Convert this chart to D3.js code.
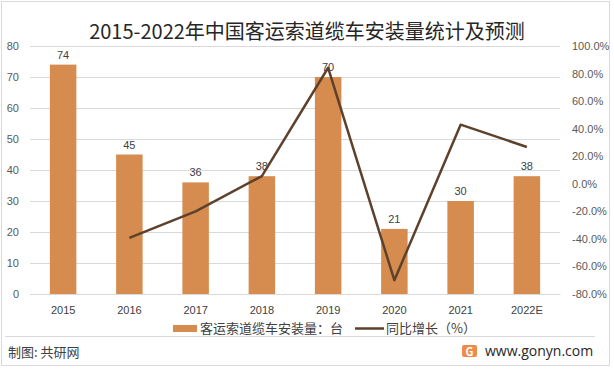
<!DOCTYPE html>
<html>
<head>
<meta charset="utf-8">
<script src="https://cdn.jsdelivr.net/npm/d3@7"></script>
<style>
  body { margin: 0; background: #fff; }
  svg { display: block; font-family: "Noto Sans CJK SC", "Noto Sans", sans-serif; }
</style>
</head>
<body>
<div id="chart"></div>
<script>
// chart data
const years = ["2015", "2016", "2017", "2018", "2019", "2020", "2021", "2022E"];
const installs = [74, 45, 36, 38, 70, 21, 30, 38];
const growth = [null, -39.2, -20.0, 5.6, 84.2, -70.0, 42.9, 26.7];
const leftTicks = [0, 10, 20, 30, 40, 50, 60, 70, 80];
const rightTicks = [-80, -60, -40, -20, 0, 20, 40, 60, 80, 100];

const W = 614, H = 369;
const plot = { left: 30, right: 560, top: 46, bottom: 294 };

const svg = d3.select("#chart").append("svg")
    .attr("width", W)
    .attr("height", H);

// outer frame
svg.append("rect")
    .attr("x", 1.5).attr("y", 1.5)
    .attr("width", 608).attr("height", 364)
    .attr("fill", "#fff")
    .attr("stroke", "#d9d9d9");

// title
svg.append("text")
    .attr("x", 307).attr("y", 39)
    .attr("text-anchor", "middle")
    .attr("font-size", 20)
    .attr("fill", "#262626")
    .text("2015-2022年中国客运索道缆车安装量统计及预测");

const x = d3.scaleBand()
    .domain(years)
    .range([plot.left, plot.right])
    .paddingInner(0.6)
    .paddingOuter(0.3);

const y = d3.scaleLinear()
    .domain([0, 80])
    .range([plot.bottom, plot.top]);

const y2 = d3.scaleLinear()
    .domain([-80, 100])
    .range([plot.bottom, plot.top]);

// gridlines
svg.append("g")
    .selectAll("line")
    .data(leftTicks)
    .join("line")
    .attr("x1", plot.left).attr("x2", plot.right)
    .attr("y1", d => Math.round(y(d)) + 0.5)
    .attr("y2", d => Math.round(y(d)) + 0.5)
    .attr("stroke", "#d9d9d9");

// left axis
const yAxis = svg.append("g")
    .attr("transform", `translate(${plot.left - 11},0)`)
    .call(d3.axisLeft(y).tickValues(leftTicks).tickSize(0).tickPadding(0));
yAxis.select(".domain").remove();
yAxis.selectAll("text")
    .attr("font-size", 11)
    .attr("fill", "#595959")
    .attr("font-family", "'Liberation Sans', Arial, sans-serif");

// right axis
const y2Axis = svg.append("g")
    .attr("transform", `translate(${plot.right + 12},0)`)
    .call(d3.axisRight(y2).tickValues(rightTicks).tickSize(0).tickPadding(0)
        .tickFormat(d => d.toFixed(1) + "%"));
y2Axis.select(".domain").remove();
y2Axis.selectAll("text")
    .attr("font-size", 11)
    .attr("fill", "#595959")
    .attr("font-family", "'Liberation Sans', Arial, sans-serif");

// bottom axis
const xAxis = svg.append("g")
    .attr("transform", `translate(0,${plot.bottom})`)
    .call(d3.axisBottom(x).tickSize(0).tickPadding(12));
xAxis.select(".domain").attr("stroke", "#d9d9d9");
xAxis.selectAll("text")
    .attr("font-size", 11)
    .attr("fill", "#404040")
    .attr("font-family", "'Liberation Sans', Arial, sans-serif");

// bars
svg.selectAll(".bar")
    .data(installs)
    .join("rect")
    .attr("class", "bar")
    .attr("x", (d, i) => x(years[i]))
    .attr("y", d => y(d))
    .attr("width", x.bandwidth())
    .attr("height", d => y(0) - y(d))
    .attr("fill", "#d58c4e");

// bar labels
svg.selectAll(".bar-label")
    .data(installs)
    .join("text")
    .attr("class", "bar-label")
    .attr("x", (d, i) => x(years[i]) + x.bandwidth() / 2)
    .attr("y", d => y(d) - 6)
    .attr("text-anchor", "middle")
    .attr("font-size", 11)
    .attr("fill", "#404040")
    .attr("font-family", "'Liberation Sans', Arial, sans-serif")
    .text(d => d);

// growth line
const pts = growth.map((g, i) => ({ year: years[i], g })).filter(d => d.g !== null);
const line = d3.line()
    .x(d => x(d.year) + x.bandwidth() / 2)
    .y(d => y2(d.g));
svg.append("path")
    .datum(pts)
    .attr("d", line)
    .attr("fill", "none")
    .attr("stroke", "#5e412c")
    .attr("stroke-width", 2.5)
    .attr("stroke-linejoin", "round");

// legend
const legend = svg.append("g");
legend.append("rect")
    .attr("x", 173).attr("y", 325)
    .attr("width", 24).attr("height", 7)
    .attr("fill", "#d58c4e");
legend.append("text")
    .attr("x", 200).attr("y", 333)
    .attr("font-size", 13)
    .attr("fill", "#404040")
    .text("客运索道缆车安装量：台");
legend.append("line")
    .attr("x1", 355).attr("x2", 384)
    .attr("y1", 328.5).attr("y2", 328.5)
    .attr("stroke", "#5e412c")
    .attr("stroke-width", 2.5);
legend.append("text")
    .attr("x", 386).attr("y", 333)
    .attr("font-size", 13)
    .attr("fill", "#404040")
    .text("同比增长（%）");

// footer
svg.append("line")
    .attr("x1", 5).attr("x2", 595)
    .attr("y1", 336.5).attr("y2", 336.5)
    .attr("stroke", "#d9d9d9");
svg.append("text")
    .attr("x", 8).attr("y", 357)
    .attr("font-size", 13)
    .attr("fill", "#404040")
    .text("制图: 共研网");

// logo
const logo = svg.append("g").attr("transform", "translate(462,345)");
logo.append("rect")
    .attr("width", 15).attr("height", 12).attr("rx", 2)
    .attr("fill", "#f08a4b");
logo.append("text")
    .attr("x", 7.5).attr("y", 10.5)
    .attr("text-anchor", "middle")
    .attr("font-size", 11)
    .attr("font-weight", "bold")
    .attr("fill", "#fff")
    .text("G");
svg.append("text")
    .attr("x", 485).attr("y", 356)
    .attr("font-size", 14)
    .attr("fill", "#262626")
    .attr("font-family", "'Open Sans', 'Noto Sans', sans-serif")
    .text("www.gonyn.com");
</script>
</body>
</html>
